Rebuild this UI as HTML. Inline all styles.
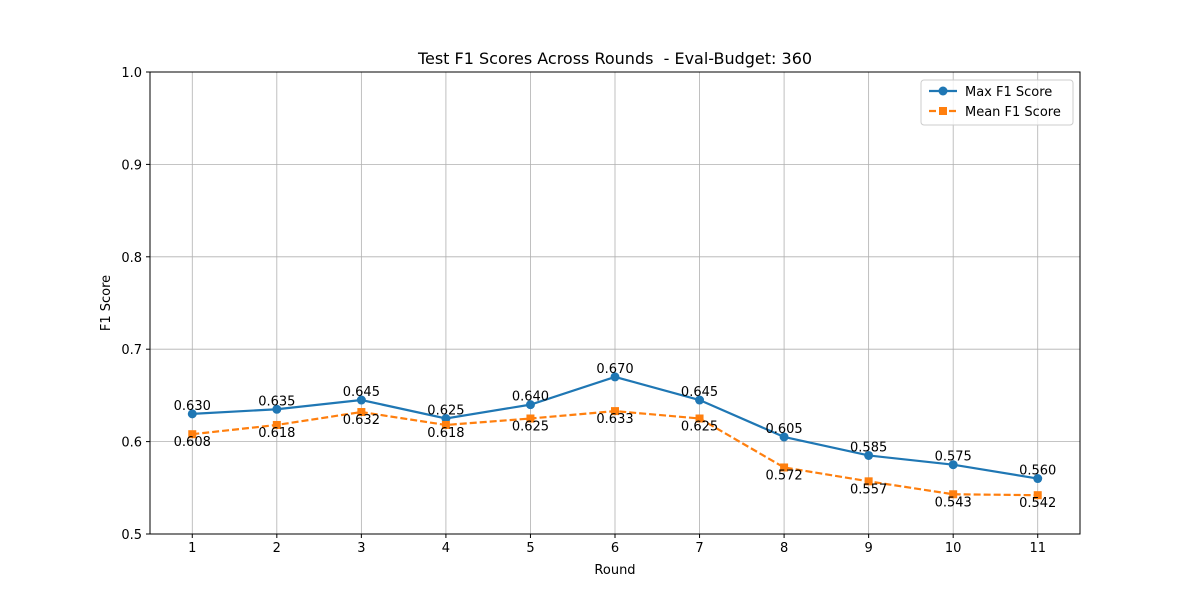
<!DOCTYPE html>
<html><head><meta charset="utf-8"><style>
body{margin:0;background:#fff;font-family:"Liberation Sans","DejaVu Sans",sans-serif;}
svg text{font-family:"DejaVu Sans","Liberation Sans",sans-serif;}
</style></head><body>
<svg id="chart" width="1200" height="600" xmlns="http://www.w3.org/2000/svg">
<rect width="1200" height="600" fill="#fff"/>
<g id="grid"></g>
<g id="axes"></g>
<g id="series"></g>
<text x="615" y="64" text-anchor="middle" font-size="16" xml:space="preserve">Test F1 Scores Across Rounds  - Eval-Budget: 360</text>
<text x="615" y="574" text-anchor="middle" font-size="13">Round</text>
<text transform="translate(110,303) rotate(-90)" text-anchor="middle" font-size="13">F1 Score</text>
<g>
<rect x="921" y="80" width="152" height="45" fill="#fff" fill-opacity="0.8" stroke="#ccc" rx="3"/>
<line x1="929" y1="91" x2="957" y2="91" stroke="#1f77b4" stroke-width="2.2"/>
<circle cx="943" cy="91" r="4.5" fill="#1f77b4"/>
<text x="965" y="96" font-size="13">Max F1 Score</text>
<line x1="929" y1="111" x2="957" y2="111" stroke="#ff7f0e" stroke-width="2.2" stroke-dasharray="7,3"/>
<rect x="939" y="107" width="8" height="8" fill="#ff7f0e"/>
<text x="965" y="116" font-size="13">Mean F1 Score</text>
</g>
</svg>
<script>
const rounds=[1,2,3,4,5,6,7,8,9,10,11];
const maxF1=[0.630,0.635,0.645,0.625,0.640,0.670,0.645,0.605,0.585,0.575,0.560];
const meanF1=[0.608,0.618,0.632,0.618,0.625,0.633,0.625,0.572,0.557,0.543,0.542];
const yTicks=[0.5,0.6,0.7,0.8,0.9,1.0];
const L=150,R=1080,T=72,B=534;
const xs=v=>L+(v-0.5)/11*(R-L);
const ys=v=>B-(v-0.5)/0.5*(B-T);
const NS="http://www.w3.org/2000/svg";
function mk(tag,attrs,parent){const e=document.createElementNS(NS,tag);for(const k in attrs)e.setAttribute(k,attrs[k]);parent.appendChild(e);return e;}
const grid=document.getElementById('grid'),axes=document.getElementById('axes'),ser=document.getElementById('series');
rounds.forEach(r=>{
 const g=mk('line',{x1:xs(r),x2:xs(r),y1:T,y2:B,stroke:'#b0b0b0','stroke-width':0.8},grid);
 
 
 mk('line',{x1:xs(r),x2:xs(r),y1:B,y2:B+4,stroke:'#000'},axes);
 const t=mk('text',{x:xs(r),y:B+18,'text-anchor':'middle','font-size':13},axes);t.textContent=r;
 
 
});
yTicks.forEach(v=>{
 const g=mk('line',{x1:L,x2:R,y1:ys(v),y2:ys(v),stroke:'#b0b0b0','stroke-width':0.8},grid);
 
 
 mk('line',{x1:L-4,x2:L,y1:ys(v),y2:ys(v),stroke:'#000'},axes);
 const t=mk('text',{x:L-8,y:ys(v)+5,'text-anchor':'end','font-size':13},axes);t.textContent=v.toFixed(1);
 
 
});
const frame=mk('rect',{x:L,y:T,width:R-L,height:B-T,fill:'none',stroke:'#000','stroke-width':1},axes);


const pMax=rounds.map((r,i)=>xs(r)+','+ys(maxF1[i])).join(' ');
const pMean=rounds.map((r,i)=>xs(r)+','+ys(meanF1[i])).join(' ');
const lm=mk('polyline',{points:pMean,fill:'none',stroke:'#ff7f0e','stroke-width':2.2,'stroke-dasharray':'7,3'},ser);


const lx=mk('polyline',{points:pMax,fill:'none',stroke:'#1f77b4','stroke-width':2.2},ser);


rounds.forEach((r,i)=>{
 const c=mk('circle',{cx:xs(r),cy:ys(maxF1[i]),r:4.5,fill:'#1f77b4'},ser);
 
 
 const s=mk('rect',{x:xs(r)-4,y:ys(meanF1[i])-4,width:8,height:8,fill:'#ff7f0e'},ser);
 
 
 const t1=mk('text',{x:xs(r),y:ys(maxF1[i])-4,'text-anchor':'middle','font-size':13},ser);t1.textContent=maxF1[i].toFixed(3);
 
 
 const t2=mk('text',{x:xs(r),y:ys(meanF1[i])+12,'text-anchor':'middle','font-size':13},ser);t2.textContent=meanF1[i].toFixed(3);
 
 
});
</script>
</body></html>
